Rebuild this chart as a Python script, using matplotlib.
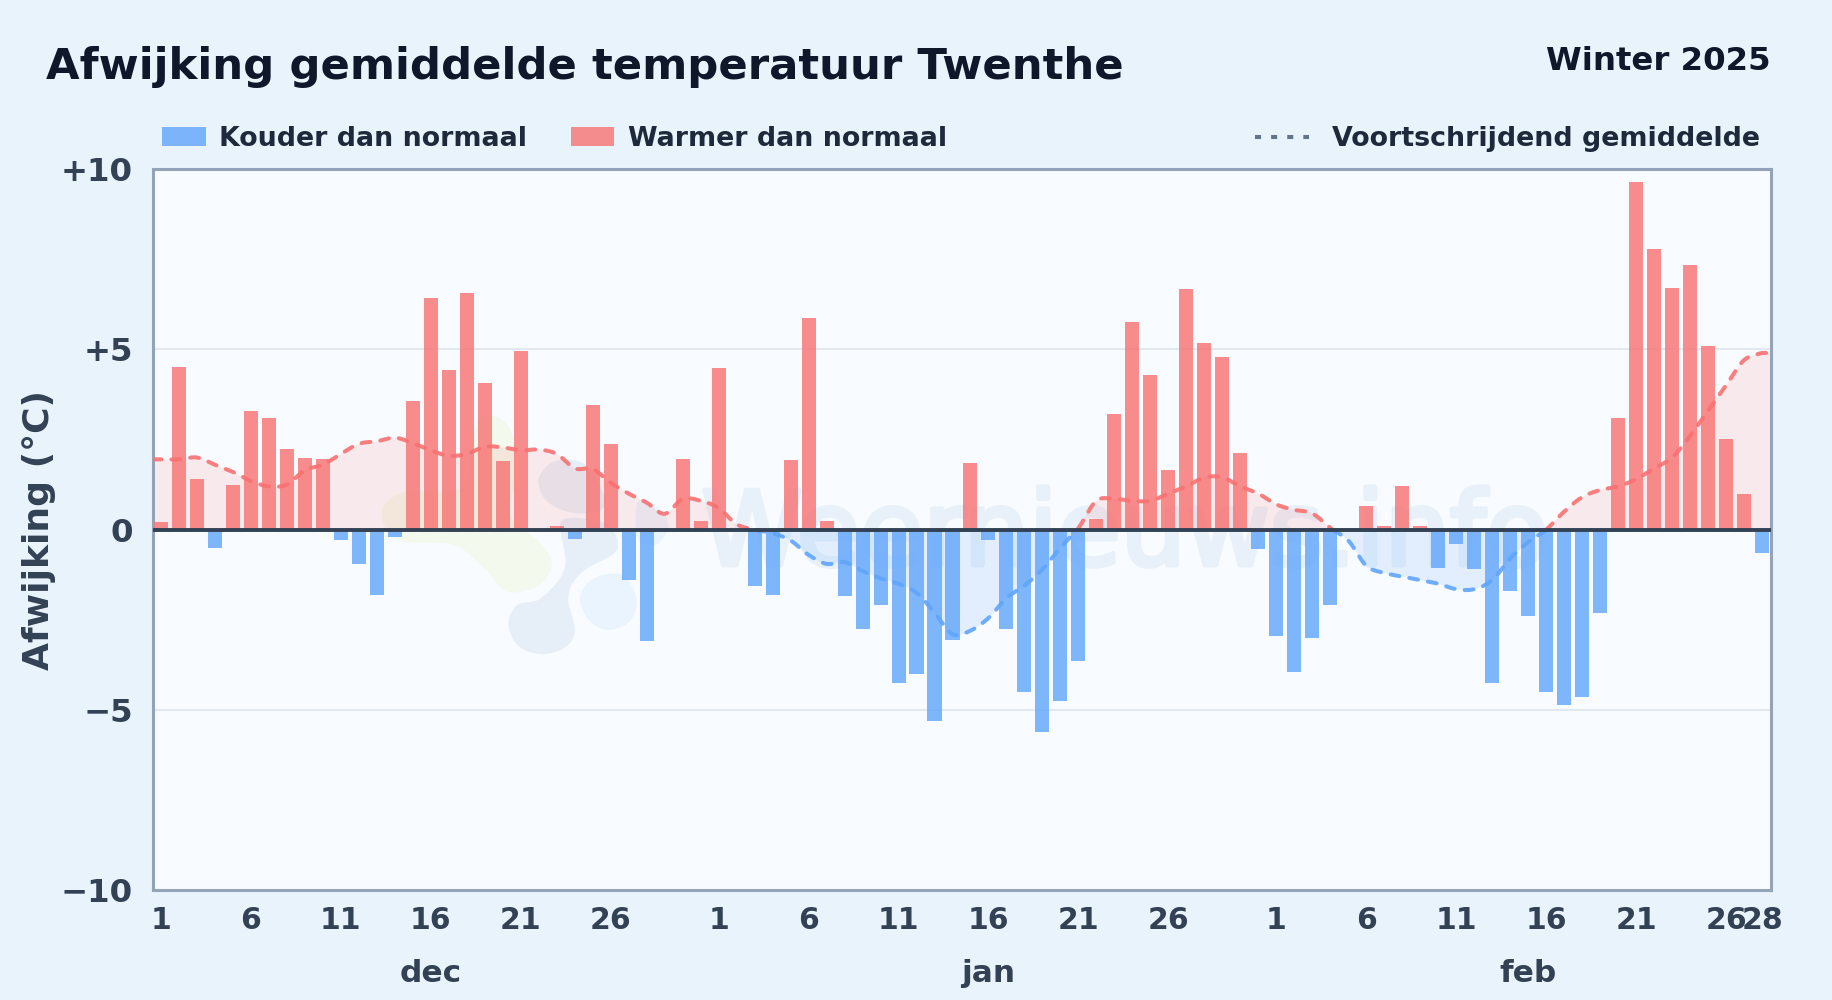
import numpy as np
import matplotlib
matplotlib.use("Agg")
import matplotlib.pyplot as plt
import matplotlib.patheffects as pe
from matplotlib.patches import Patch
from matplotlib.lines import Line2D
from matplotlib.transforms import Affine2D

# ======================== Data =============================
dec_values = [0.2, 4.5, 1.4, -0.5, 1.25, 3.3, 3.1, 2.25, 2.0, 1.95, -0.3, -0.95, -1.8, -0.2, 3.58, 6.43,
              4.42, 6.56, 4.07, 1.9, 4.94, 0.0, 0.1, -0.25, 3.45, 2.38, -1.4, -3.1, 0.0, 1.95, 0.25]
jan_values = [4.48, 0.0, -1.55, -1.8, 1.92, 5.87, 0.25, -1.85, -2.75, -2.1, -4.25, -4.0, -5.3, -3.05, 1.85, -0.3,
              -2.75, -4.5, -5.6, -4.75, -3.65, 0.3, 3.2, 5.75, 4.28, 1.65, 6.68, 5.18, 4.8, 2.12, -0.55]
feb_values = [-2.95, -3.95, -3.0, -2.1, 0.0, 0.65, 0.1, 1.2, 0.1, -1.05, -0.4, -1.1, -4.25, -1.7, -2.4, -4.5,
              -4.85, -4.65, -2.3, 3.1, 9.63, 7.78, 6.7, 7.35, 5.1, 2.5, 1.0, -0.65]

dec_avg = [1.95, 1.95, 2.0, 1.8, 1.6, 1.35, 1.2, 1.25, 1.65, 1.8, 2.1, 2.38, 2.45, 2.55, 2.4, 2.2,
           2.05, 2.1, 2.3, 2.28, 2.2, 2.22, 2.1, 1.7, 1.68, 1.3, 1.0, 0.75, 0.44, 0.85, 0.8]
jan_avg = [0.6, 0.15, 0.0, -0.1, -0.3, -0.7, -0.95, -0.9, -1.15, -1.35, -1.5, -1.75, -2.3, -2.9, -2.8, -2.45,
           -1.9, -1.55, -1.1, -0.5, 0.05, 0.8, 0.85, 0.8, 0.8, 1.0, 1.2, 1.45, 1.45, 1.2, 1.0]
feb_avg = [0.7, 0.55, 0.45, 0.05, -0.3, -1.0, -1.2, -1.3, -1.4, -1.5, -1.65, -1.65, -1.4, -0.8, -0.35, 0.0,
           0.5, 0.9, 1.1, 1.2, 1.4, 1.7, 2.0, 2.6, 3.3, 4.0, 4.7, 4.9]

months = ["dec", "jan", "feb"]
month_lengths = [len(dec_values), len(jan_values), len(feb_values)]
day_ticks = [1, 6, 11, 16, 21, 26]
y_ticks = [-10, -5, 0, 5, 10]
y_tick_labels = ["\u221210", "\u22125", "0", "+5", "+10"]

values = np.array(dec_values + jan_values + feb_values)
avg = np.array(dec_avg + jan_avg + feb_avg)
days = np.arange(len(values))

# ======================== Colours ==========================
fig_bg = "#e8f3fc"
ax_bg = "#f8fbff"
red = "#f87171"
blue = "#60a5fa"
dark = "#0f172a"
mid = "#1e293b"
slate = "#334155"
mark_col = "#e8f1fa"


# rounded curve through some points (Catmull-Rom), for the line and the logo
def smooth(px, py, n=12, closed=False):
    px, py = np.asarray(px, float), np.asarray(py, float)
    if closed:
        px = np.r_[px[-1], px, px[0], px[1]]
        py = np.r_[py[-1], py, py[0], py[1]]
    else:
        px = np.r_[px[0], px, px[-1]]
        py = np.r_[py[0], py, py[-1]]
    s = np.linspace(0, 1, n, endpoint=False)[:, None]
    out = []
    for p in (px, py):
        a, b, c, d = p[:-3], p[1:-2], p[2:-1], p[3:]
        seg = 0.5 * (2*b + (c - a)*s + (2*a - 5*b + 4*c - d)*s**2 + (3*b - a - 3*c + d)*s**3)
        out.append(seg.T.ravel())
    return out[0], out[1]


# ======================== Figure and Axes ==========================
W, H = 1832, 1000
fig = plt.figure(figsize=(W/100, H/100), dpi=100, facecolor=fig_bg)
plt.rcParams["font.family"] = "DejaVu Sans"
left, right, top, bottom = 152.5, 1771, 169, 890.3
ax = fig.add_axes([left/W, 1 - bottom/H, (right - left)/W, (bottom - top)/H], facecolor=ax_bg)
ax.set_xlim(-0.47, 89.5)
ax.set_ylim(-10, 10)
for s in ax.spines.values():
    s.set_color("#94a3b8")
    s.set_linewidth(2.2)

# >>>>> watermark logo, in picture pixels
px_trans = Affine2D().scale(1, -1).translate(0, H)
logo_shapes = [
    ("#f3f9ec", [60, 80, 140, 300, 330, 350, 410, 460, 470, 460, 540, 580, 540, 440, 370, 280, 130, 80],
                [340, 300, 270, 260, 150, 60, 45, 100, 230, 350, 420, 490, 560, 580, 510, 440, 430, 400]),
    ("#e6eff8", [440, 470, 540, 610, 600, 720, 770, 770, 670, 630, 650, 620, 545, 470],
                [670, 610, 590, 500, 360, 360, 400, 460, 520, 590, 690, 745, 768, 740]),
    ("#e6eff8", [530, 570, 640, 700, 740, 650, 560], [240, 185, 175, 210, 320, 345, 310]),
    ("#e9f4fe", [655, 700, 790, 835, 810, 740, 680], [590, 530, 520, 600, 670, 695, 660]),
    ("#e9f4fe", [830, 900, 930, 890, 830], [300, 320, 380, 440, 420]),
]
for col, zx, zy in logo_shapes:
    bx, by = smooth(360 + np.array(zx)/3, 400 + np.array(zy)/3, closed=True)
    ax.fill(bx, by, facecolor=col, edgecolor=ax_bg, linewidth=2.5, transform=px_trans, zorder=0.5)

ax.annotate("Weernieuws.info", xy=(1125, H - 565), xycoords="figure pixels", ha="center", va="baseline",
            fontsize=74, color=mark_col, zorder=0.6, annotation_clip=False,
            path_effects=[pe.withStroke(linewidth=3.5, foreground=mark_col)])

# >>>>> grid
for yv in [-5, 5]:
    ax.axhline(yv, color="#e2e8f0", linewidth=1.4, zorder=1)

# >>>>> smoothed average with a fill below
cx, cy = smooth(days, avg)
cx = np.r_[-0.47, cx, days[-1], 89.5]
cy = np.r_[avg[0], cy, avg[-1], avg[-1]]
ax.fill_between(cx, 0, cy, where=cy >= 0, interpolate=True, color=red, alpha=0.13, zorder=2, linewidth=0)
ax.fill_between(cx, 0, cy, where=cy <= 0, interpolate=True, color=blue, alpha=0.14, zorder=2, linewidth=0)

# >>>>> bars
colors = [red if v >= 0 else blue for v in values]
ax.bar(days, values, width=0.78, color=colors, alpha=0.8, linewidth=0, zorder=3)

# >>>>> average line
dash = (0, (2.2, 2.5))
ax.plot(cx, np.ma.masked_where(cy < 0, cy), color=red, alpha=0.9, lw=2.9, ls=dash, dash_capstyle="round", zorder=4)
ax.plot(cx, np.ma.masked_where(cy >= 0, cy), color=blue, alpha=0.9, lw=2.9, ls=dash, dash_capstyle="round", zorder=4)

ax.axhline(0, color=slate, linewidth=2.8, zorder=5)

# ======================== Ticks and labels ==========================
tick_pos, tick_lab, month_pos = [], [], []
start = 0
for n in month_lengths:
    tick_pos += [start + d - 1 for d in day_ticks]
    tick_lab += [str(d) for d in day_ticks]
    month_pos.append(start + n//2)
    start += n
tick_pos.append(start - 1)
tick_lab.append(str(month_lengths[-1]))

ax.set_xticks(tick_pos, tick_lab, fontsize=21.5, fontweight="bold", color=slate)
ax.set_yticks(y_ticks, y_tick_labels, fontsize=23.3, fontweight="bold", color=slate)
ax.tick_params(axis="x", length=0, pad=11)
ax.tick_params(axis="y", length=0, pad=14)

for name, pos in zip(months, month_pos):
    ax.text(pos, -(973 - bottom)/(bottom - top), name, transform=ax.get_xaxis_transform(), ha="center", va="center",
            fontsize=22.5, fontweight="bold", color=slate)

fig.text(39/W, 1 - 530/H, "Afwijking (\u00b0C)", rotation=90, ha="center", va="center",
         fontsize=26, fontweight="bold", color=slate)

fig.text(46/W, 1 - 79/H, "Afwijking gemiddelde temperatuur Twenthe", ha="left", va="baseline",
         fontsize=31.2, fontweight="bold", color=dark)
fig.text(1771/W, 1 - 70/H, "Winter 2025", ha="right", va="baseline",
         fontsize=23.3, fontweight="bold", color=dark)

# ======================== Legends ==========================
handles = [Patch(facecolor=blue, alpha=0.8, linewidth=0, label="Kouder dan normaal"),
           Patch(facecolor=red, alpha=0.8, linewidth=0, label="Warmer dan normaal")]
leg_font = {"size": 19.4, "weight": "bold"}
leg = fig.legend(handles=handles, loc="center left", bbox_to_anchor=(162/W, 1 - 139/H), ncol=2, frameon=False,
                 prop=leg_font, labelcolor=mid, handlelength=1.63, handleheight=0.75, handletextpad=0.5,
                 columnspacing=1.6, borderpad=0, borderaxespad=0)
leg2 = fig.legend(handles=[Line2D([], [], color="#64748b", lw=2.9, ls=(0, (1.5, 2.5)), label="Voortschrijdend gemiddelde")],
                  loc="center right", bbox_to_anchor=(1760/W, 1 - 139/H), frameon=False, prop=leg_font,
                  labelcolor=mid, handlelength=2.0, handletextpad=0.85, borderpad=0, borderaxespad=0)

fig.savefig("out.png", dpi=100, facecolor=fig_bg)
